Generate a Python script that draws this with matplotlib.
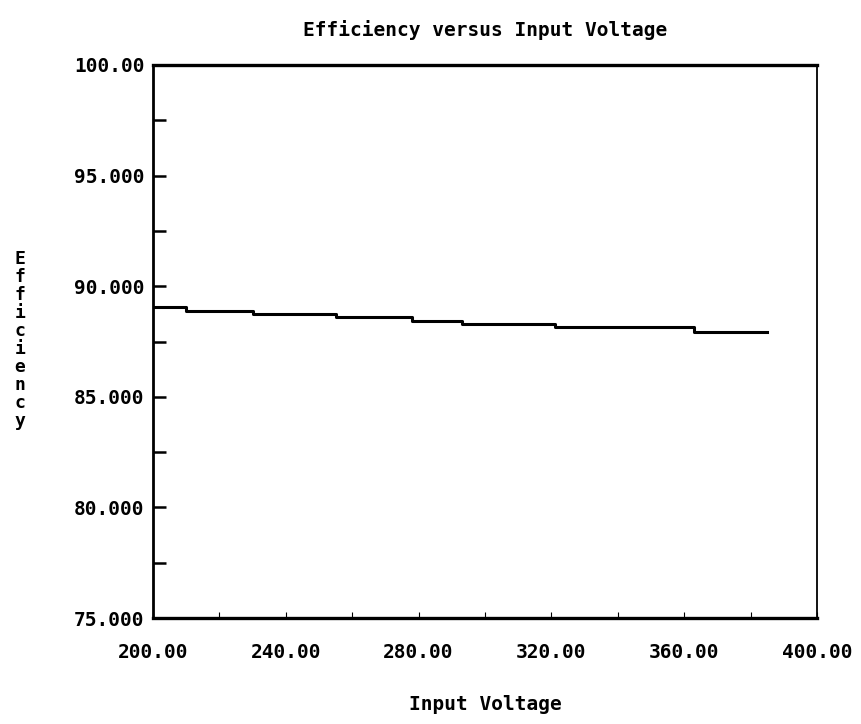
import numpy as np
import matplotlib
matplotlib.use("Agg")
import matplotlib.pyplot as plt

# step breakpoints
voltage = [200, 210, 230, 255, 278, 293, 321, 363, 385]
efficiency = [89.05, 88.87, 88.73, 88.59, 88.44, 88.31, 88.14, 87.93, 87.93]

x_ticks = [200, 240, 280, 320, 360, 400]
x_labels = ["200.00", "240.00", "280.00", "320.00", "360.00", "400.00"]
y_ticks = [75, 80, 85, 90, 95, 100]
y_labels = ["75.000", "80.000", "85.000", "90.000", "95.000", "100.00"]

FONT = "DejaVu Sans Mono"

fig = plt.figure(figsize=(8.61, 7.24), dpi=100)
ax = fig.add_axes([153 / 861, 1 - 618 / 724, 664 / 861, 553 / 724])

ax.plot(voltage, efficiency, color="black", lw=2.2, drawstyle="steps-post")

ax.set_xlim(200, 400)
ax.set_ylim(75, 100)

ax.set_xticks(x_ticks)
ax.set_xticklabels(x_labels, family=FONT, fontweight="bold", fontsize=14)
ax.set_xticks(np.arange(200, 401, 20), minor=True)
ax.set_yticks(y_ticks)
ax.set_yticklabels(y_labels, family=FONT, fontweight="bold", fontsize=14)
ax.set_yticks(np.arange(75, 100.1, 2.5), minor=True)

ax.tick_params(axis="x", which="both", direction="in", length=4, width=0.8, pad=18)
ax.tick_params(axis="y", which="both", direction="in", length=9, width=1.8, pad=6)

for side, w in [("top", 2.4), ("bottom", 2.4), ("left", 2.0), ("right", 1.3)]:
    ax.spines[side].set_linewidth(w)

ax.set_title("Efficiency versus Input Voltage", family=FONT, fontweight="bold",
             fontsize=14, pad=21)
ax.set_xlabel("Input Voltage", family=FONT, fontweight="bold", fontsize=14,
              labelpad=24)

# vertical stacked y label
fig.text(20 / 861, 1 - 340 / 724, "\n".join("Efficiency"), family=FONT,
         fontweight="bold", fontsize=13, ha="center", va="center",
         linespacing=1.0)

fig.savefig("out.png", dpi=100)
